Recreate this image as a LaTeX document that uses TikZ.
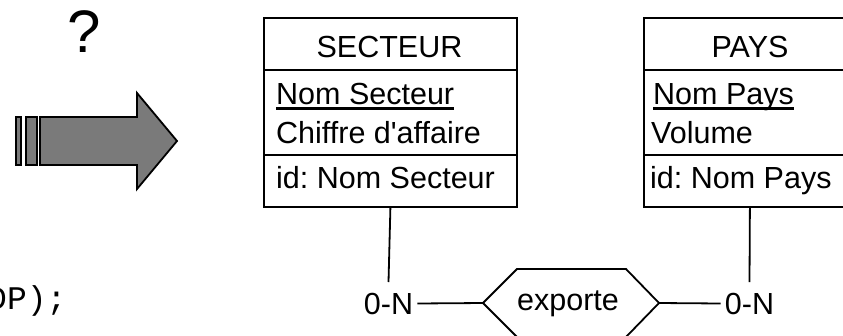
\documentclass[tikz,border=0pt]{standalone}
\usepackage{fontspec}
\setmainfont{Liberation Sans}
\setmonofont{Liberation Mono}
\definecolor{arrowgray}{RGB}{122,122,122}
\frenchspacing
\begin{document}
\begin{tikzpicture}[x=1pt,y=-1pt,
  txt/.style={inner sep=0pt, font=\fontsize{30.5}{36}\selectfont},
  attr/.style={txt, anchor=base west},
  ttl/.style={txt, anchor=base},
  entbox/.style={draw, line width=1.8pt, minimum width=#1, minimum height=189pt, anchor=north west, inner sep=0pt},
  sepline/.style={line width=1.8pt},
  ulline/.style={line width=2.2pt},
  link/.style={line width=1.8pt},
  card/.style={font=\fontsize{30.5}{36}\selectfont, inner xsep=4pt, inner ysep=10.5pt},
  bigarrow/.style={draw, fill=arrowgray, line width=1.8pt, line join=miter}]
\useasboundingbox (0,0) rectangle (843,335);

% question mark
\node[font=\fontsize{60}{70}\selectfont, inner sep=0pt, anchor=base] (q) at (84.5,52.5) {?};

% big arrow
\draw[bigarrow] (16,117) rectangle (21,165);
\draw[bigarrow] (26,117) rectangle (37,165);
\draw[bigarrow] (40,117) -- (137,117) -- (137,93) -- (177,141) -- (137,189) -- (137,165) -- (40,165) -- cycle;

% code fragment
\node[inner sep=0pt, anchor=base west, font=\ttfamily\fontsize{33}{38}\selectfont] (code) at (-13,309) {DP);};

% SECTEUR entity
\node[entbox=253pt] (sect) at (263,17) {};
\draw[sepline] ([yshift=-53pt]sect.north west) -- ([yshift=-53pt]sect.north east);
\draw[sepline] ([yshift=-138pt]sect.north west) -- ([yshift=-138pt]sect.north east);
\node[ttl] (sectT) at (389.5,57) {SECTEUR};
\node[attr] (sectA) at (276,104) {Nom Secteur};
\draw[ulline] ([yshift=-4.5pt]sectA.base west) -- ([yshift=-4.5pt]sectA.base east);
\node[attr] (sectB) at (276,143) {Chiffre d\textquotesingle affaire};
\node[attr] (sectC) at (276,188) {id: Nom Secteur};

% PAYS entity
\node[entbox=212pt] (pays) at (643,17) {};
\draw[sepline] ([yshift=-53pt]pays.north west) -- ([yshift=-53pt]pays.north east);
\draw[sepline] ([yshift=-138pt]pays.north west) -- ([yshift=-138pt]pays.north east);
\node[ttl] (paysT) at (750,57) {PAYS};
\node[attr] (paysA) at (653,104) {Nom Pays};
\draw[ulline] ([yshift=-4.5pt]paysA.base west) -- ([yshift=-4.5pt]paysA.base east);
\node[attr] (paysB) at (651,143) {Volume};
\node[attr] (paysC) at (650,188) {id: Nom Pays};

% relationship
\coordinate (relW) at (483,303);
\coordinate (relE) at (659,303);
\draw[link, line join=miter] (relW) -- (517,269) -- (626,269) -- (relE) -- (626,337) -- (517,337) -- cycle;
\node[txt, anchor=base] (rel) at (568,310) {exporte};

% cardinalities and links
\node[card] (c1) at (388.5,303.5) {0-N};
\node[card] (c2) at (749.5,303.5) {0-N};
\draw[link] (sect.south) -- (c1.north);
\draw[link] (c1.east) -- (relW);
\draw[link] (pays.south) -- (c2.north);
\draw[link] (relE) -- (c2.west);
\end{tikzpicture}
\end{document}
